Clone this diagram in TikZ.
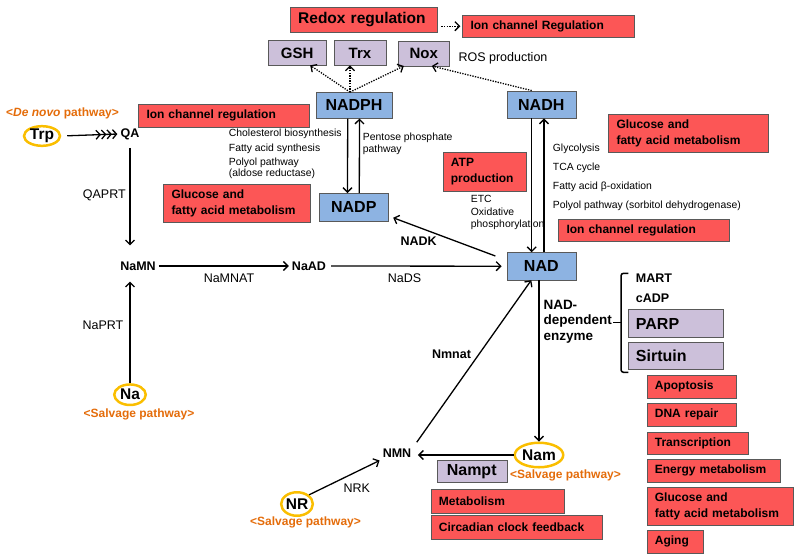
\documentclass[tikz,border=0pt]{standalone}
\usepackage{fontspec}
\setmainfont{Liberation Sans}
\usetikzlibrary{arrows.meta, positioning, shapes.geometric}

\definecolor{boxred}{RGB}{252,86,86}
\definecolor{boxblue}{RGB}{141,179,226}
\definecolor{boxlilac}{RGB}{204,192,218}
\definecolor{ringgold}{RGB}{250,190,0}
\definecolor{pathorange}{RGB}{228,108,10}

\begin{document}
\begin{tikzpicture}[x=1pt, y=-1pt,
    redbox/.style={rectangle, draw=black!65, fill=boxred, anchor=north west,
      align=left, inner xsep=8pt, inner ysep=0pt,
      font=\fontsize{12}{15.5}\selectfont\bfseries},
    bluebox/.style={rectangle, draw=black!65, fill=boxblue, inner sep=0pt,
      font=\fontsize{16}{18}\selectfont\bfseries},
    lilac/.style={rectangle, draw=black!65, fill=boxlilac, inner sep=0pt,
      font=\fontsize{15}{18}\selectfont\bfseries},
    ring/.style={ellipse, draw=ringgold, line width=2.5pt, inner sep=0pt,
      font=\fontsize{15.5}{18}\selectfont\bfseries},
    met/.style={inner sep=3pt, font=\fontsize{12.5}{14}\selectfont\bfseries},
    enz/.style={inner sep=2pt, font=\fontsize{12.5}{14}\selectfont},
    note/.style={anchor=west, align=left, inner sep=0pt,
      font=\fontsize{10.4}{12.3}\selectfont},
    salvage/.style={inner sep=0pt, text=pathorange,
      font=\fontsize{12}{14}\selectfont\bfseries},
    arr/.style={line width=1.3pt, -{Straight Barb[length=4.5pt,width=9pt]}},
    dotarr/.style={arr, dash pattern=on 1.3pt off 1.3pt}
  ]
  \useasboundingbox (0,0) rectangle (800,558);

  % red boxes
  \node[redbox, text width=131pt, minimum height=25pt,
    font=\fontsize{15.5}{18}\selectfont\bfseries] (redox) at (290,7) {Redox regulation};
  \node[redbox, text width=156pt, minimum height=22pt] (ionTop) at (462.3,15) {Ion channel Regulation};
  \node[redbox, text width=155pt, minimum height=22.4pt] (ionLeft) at (138.3,104.3) {Ion channel regulation};
  \node[redbox, text width=130.7pt, minimum height=38.3pt] (glucLeft) at (163.3,184) {Glucose and\\fatty acid metabolism};
  \node[redbox, text width=143.4pt, minimum height=38pt] (glucTop) at (608.3,114.3) {Glucose and\\fatty acid metabolism};
  \node[redbox, text width=67.3pt, minimum height=38.4pt] (atp) at (442.7,152.3) {ATP\\production};
  \node[redbox, text width=155pt, minimum height=22pt] (ionRight) at (558.3,219) {Ion channel regulation};
  \node[redbox, text width=117.3pt, minimum height=23.4pt] (metab) at (430.7,489.3) {Metabolism};
  \node[redbox, text width=155pt, minimum height=24pt,
    below=1.6pt of metab.south west, anchor=north west] (circ) {Circadian clock feedback};

  \node[redbox, text width=73pt, minimum height=23.3pt] (apop) at (646.7,375) {Apoptosis};
  \node[redbox, text width=73pt, minimum height=23pt,
    below=4.4pt of apop.south west, anchor=north west] (dna) {DNA repair};
  \node[redbox, text width=85.6pt, minimum height=22.6pt,
    below=5pt of dna.south west, anchor=north west] (transc) {Transcription};
  \node[redbox, text width=117.3pt, minimum height=23.3pt,
    below=4.4pt of transc.south west, anchor=north west] (energy) {Energy metabolism};
  \node[redbox, text width=130pt, minimum height=37.6pt,
    below=4.7pt of energy.south west, anchor=north west] (glucBot) {Glucose and\\fatty acid metabolism};
  \node[redbox, text width=40.6pt, minimum height=23pt,
    below=4.4pt of glucBot.south west, anchor=north west] (aging) {Aging};

  % lilac boxes
  \node[lilac, minimum width=58pt, minimum height=24.5pt] (GSH) at (297.2,52.9) {GSH};
  \node[lilac, minimum width=51.5pt, minimum height=24.5pt] (Trx) at (360,52.9) {Trx};
  \node[lilac, minimum width=51pt, minimum height=25pt] (Nox) at (423.8,53.3) {Nox};
  \node[lilac, anchor=north west, align=left, inner xsep=8pt, text width=79pt,
    minimum height=28pt, font=\fontsize{16}{18}\selectfont\bfseries] (PARP) at (627.7,309.3) {PARP};
  \node[lilac, anchor=north west, align=left, inner xsep=8pt, text width=79pt,
    minimum height=26.6pt, font=\fontsize{16}{18}\selectfont\bfseries,
    below=4.4pt of PARP.south west, anchor=north west] (Sirtuin) {Sirtuin};
  \node[lilac, minimum width=70pt, minimum height=22.3pt,
    font=\fontsize{16}{18}\selectfont\bfseries] (Nampt) at (471.7,471.2) {Nampt};

  % blue boxes
  \node[bluebox, minimum width=76pt, minimum height=26pt] (NADPH) at (354,105.3) {NADPH};
  \node[bluebox, minimum width=69pt, minimum height=27.5pt] (NADH) at (541.3,104.5) {NADH};
  \node[bluebox, minimum width=69pt, minimum height=27.5pt] (NADP) at (353.8,207) {NADP};
  \node[bluebox, minimum width=69pt, minimum height=27.5pt] (NAD) at (541.3,266.2) {NAD};

  % rings
  \node[ring, minimum width=36pt, minimum height=19.5pt] (Trp) at (42,136) {Trp};
  \node[ring, minimum width=31.5pt, minimum height=20.5pt] (Na) at (130,394.7) {Na};
  \node[ring, minimum width=48.5pt, minimum height=24.5pt] (Nam) at (539,455) {Nam};
  \node[ring, minimum width=30.5pt, minimum height=23.5pt] (NR) at (297,504) {NR};

  % metabolites and enzymes
  \node[met] (QA) at (130,134) {QA};
  \node[met] (NaMN) at (138,266) {NaMN};
  \node[met] (NaAD) at (309,266) {NaAD};
  \node[met] (NMN) at (397,453) {NMN};
  \node[met] (NADK) at (418.7,240.7) {NADK};
  \node[met] (Nmnat) at (451.5,354.3) {Nmnat};
  \node[met, anchor=west, inner sep=0pt] (MART) at (635.7,278.3) {MART};
  \node[met, anchor=west, inner sep=0pt] (cADP) at (635.7,298.3) {cADP};
  \node[met, anchor=west, align=left, inner sep=0pt,
    font=\fontsize{13.5}{15.7}\selectfont\bfseries] (NADdep) at (543.3,321.7) {NAD-\\dependent\\enzyme};

  \node[enz] (QAPRT) at (104.3,195) {QAPRT};
  \node[enz] (NaPRT) at (103,325) {NaPRT};
  \node[enz] (NaMNAT) at (229,278.3) {NaMNAT};
  \node[enz] (NaDS) at (404.5,278.3) {NaDS};
  \node[enz] (NRK) at (356.7,488.3) {NRK};
  \node[enz, anchor=west, inner sep=0pt] (ROS) at (458.3,58.3) {ROS production};

  % side notes
  \node[note] (chol) at (228.7,134) {Cholesterol biosynthesis};
  \node[note] (fas) at (228.7,149) {Fatty acid synthesis};
  \node[note, font=\fontsize{10.4}{11}\selectfont] (polyolL) at (228.7,168.2) {Polyol pathway\\(aldose reductase)};
  \node[note] (pentose) at (362.7,143.9) {Pentose phosphate\\pathway};
  \node[note, font=\fontsize{10.4}{19.2}\selectfont] (nadhsrc) at (552.7,177.2)
    {Glycolysis\\TCA cycle\\Fatty acid β-oxidation\\Polyol pathway (sorbitol dehydrogenase)};
  \node[note, font=\fontsize{10.4}{12.5}\selectfont] (etc) at (470.7,212.5) {ETC\\Oxidative\\phosphorylation};

  % pathway tags
  \node[salvage, anchor=west] (denovo) at (6,113.3) {<\textit{De novo} pathway>};
  \node[salvage] (salvNa) at (139,414.3) {<Salvage pathway>};
  \node[salvage] (salvNR) at (305.5,522.7) {<Salvage pathway>};
  \node[salvage] (salvNam) at (565.5,475.7) {<Salvage pathway>};

  % connectors
  \draw[dotarr, shorten <=4pt, shorten >=2pt] (redox.east |- ionTop.west) -- (ionTop.west);
  \draw[dotarr] ([xshift=-4pt]NADPH.north) -- ([xshift=13pt]GSH.south);
  \draw[dotarr] ([xshift=-4pt]NADPH.north) -- ([xshift=-10pt]Trx.south);
  \draw[dotarr] ([xshift=-4pt]NADPH.north) -- ([xshift=-20pt]Nox.south);
  \draw[dotarr] ([xshift=-9.6pt]NADH.north) -- ([xshift=8pt]Nox.south);

  \draw[arr] ([xshift=-6.3pt]NADPH.south) -- ([xshift=-6.3pt]NADP.north);
  \draw[arr] ([xshift=5.5pt]NADP.north) -- ([xshift=5.5pt]NADPH.south);
  \draw[arr] ([xshift=-9.6pt]NADH.south) -- ([xshift=-9.6pt]NAD.north);
  \draw[arr] ([xshift=2.7pt]NAD.north) -- ([xshift=2.7pt]NADH.south);
  \draw[arr, shorten <=12pt, shorten >=5pt] ([yshift=6pt]NAD.west) -- ([yshift=-9pt]NADP.east);

  \draw[line width=1.3pt, shorten <=6pt,
    -{Straight Barb[length=4pt,width=9pt] Straight Barb[length=4pt,width=9pt] Straight Barb[length=4pt,width=9pt] Straight Barb[length=4pt,width=9pt]}]
    (Trp.east) -- (QA.west);
  \draw[arr, shorten <=5pt, shorten >=13pt] (QA.south) -- (QA.south |- NaMN.north);
  \draw[arr, shorten >=8pt] (Na.north) -- (Na.north |- NaMN.south);
  \draw[arr] (NaMN.east) -- (NaAD.west);
  \draw[arr, shorten <=2pt, shorten >=5pt] (NaAD.east) -- (NAD.west);
  \draw[arr] (NAD.south -| Nam.north) -- (Nam.north);
  \draw[arr, shorten >=3.5pt] (Nam.west) -- (Nam.west -| NMN.east);
  \draw[arr, shorten <=4pt] (NMN.north east) -- ([xshift=-10pt]NAD.south);
  \draw[arr] (NR.north east) -- (NMN.south west);

  % enzyme bracket
  \draw[line width=1.5pt, rounded corners=2.5pt]
    (628.3,273.3) -- (621,273.3) -- (621,372.3) -- (628.3,372.3);
  \draw[line width=1.5pt] (621,322.3) -- (613,322.3);
\end{tikzpicture}
\end{document}
